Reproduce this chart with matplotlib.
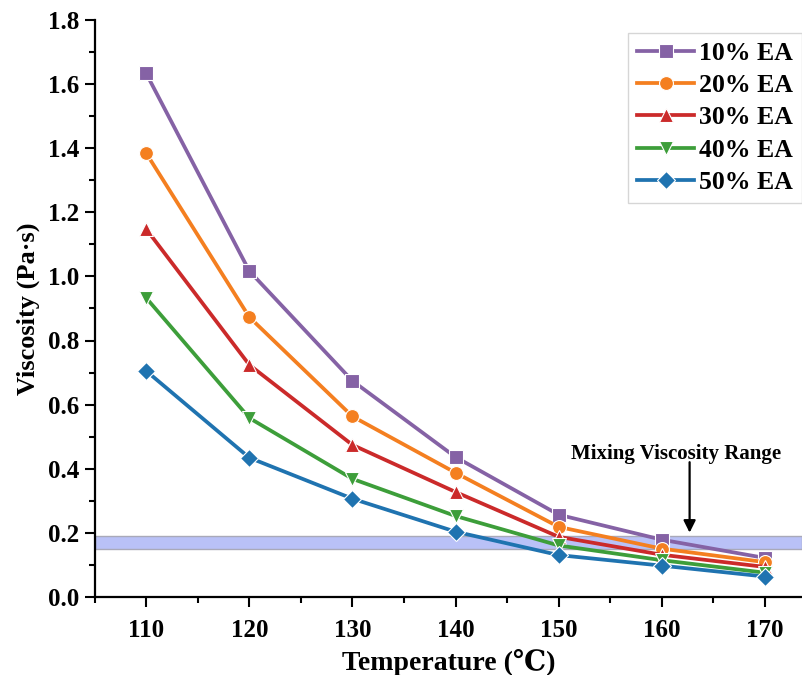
import numpy as np
import matplotlib.pyplot as plt

plt.rcParams['font.family'] = ['Liberation Serif', 'DejaVu Serif']
plt.rcParams['font.weight'] = 'bold'

temp = [110, 120, 130, 140, 150, 160, 170]
labels = ['10% EA', '20% EA', '30% EA', '40% EA', '50% EA']
ea10 = [1.634, 1.017, 0.674, 0.436, 0.256, 0.178, 0.121]
ea20 = [1.385, 0.873, 0.563, 0.387, 0.218, 0.150, 0.108]
ea30 = [1.148, 0.724, 0.474, 0.327, 0.187, 0.131, 0.093]
ea40 = [0.933, 0.558, 0.368, 0.252, 0.160, 0.114, 0.075]
ea50 = [0.705, 0.434, 0.306, 0.203, 0.130, 0.097, 0.063]
band = [0.15, 0.188]   # mixing viscosity range

series = [ea10, ea20, ea30, ea40, ea50]
colors = ['#8562a5', '#f47f20', '#cb2a2a', '#3d9e3a', '#1f73b0']
markers = ['s', 'o', '^', 'v', 'D']
msizes = [9.5, 10, 10.5, 10.5, 9]

fig = plt.figure(figsize=(8.02, 6.75), dpi=100)
ax = fig.add_axes([0.118, 0.116, 0.882, 0.854])

ax.axhspan(band[0], band[1], facecolor='#b9c1f7', edgecolor='#a9a9b9', lw=1, zorder=1)

for y, c, m, ms, lab in zip(series, colors, markers, msizes, labels):
    ax.plot(temp, y, color=c, marker=m, ms=ms, lw=2.7, mec='white', mew=0.8,
            label=lab, zorder=3)

# arrow + label for the mixing range
ax.annotate('', xy=(162.7, 0.2), xytext=(162.7, 0.42),
            arrowprops=dict(arrowstyle='-|>', color='black', lw=1.6,
                            mutation_scale=18, shrinkA=0, shrinkB=0))
ax.text(161.4, 0.447, 'Mixing Viscosity Range', ha='center', va='center',
        fontsize=15, fontweight='bold')

ax.set_xlim(105, 173.6)
ax.set_ylim(0, 1.8)
ax.set_xticks(np.arange(110, 171, 10))
ax.set_xticks(np.arange(105, 175, 5), minor=True)
ax.set_yticks(np.arange(0, 1.81, 0.2))
ax.set_yticks(np.arange(0, 1.81, 0.1), minor=True)
ax.set_yticklabels(['%.1f' % v for v in np.arange(0, 1.81, 0.2)])

for s in ['top', 'right']:
    ax.spines[s].set_visible(False)
for s in ['left', 'bottom']:
    ax.spines[s].set_linewidth(1.6)

ax.tick_params(which='major', length=7, width=1.5, labelsize=18, direction='out')
ax.tick_params(which='minor', length=4, width=1.5, direction='out')
ax.tick_params(axis='x', pad=9)
ax.tick_params(axis='y', pad=4)

ax.set_xlabel('Temperature (℃)', fontsize=20, fontweight='bold')
ax.set_ylabel('Viscosity (Pa·s)', fontsize=19, fontweight='bold')
ax.xaxis.set_label_coords(0.5, -0.09)
ax.yaxis.set_label_coords(-0.077, 0.5)

leg = ax.legend(loc='upper right', bbox_to_anchor=(1.0, 0.978), fontsize=18.5,
                handlelength=2.2, frameon=True, fancybox=False,
                edgecolor='#cccccc', borderpad=0.35, labelspacing=0.36,
                handletextpad=0.2, borderaxespad=0.0)
leg.get_frame().set_linewidth(1.0)

fig.savefig('out.png', dpi=100)
